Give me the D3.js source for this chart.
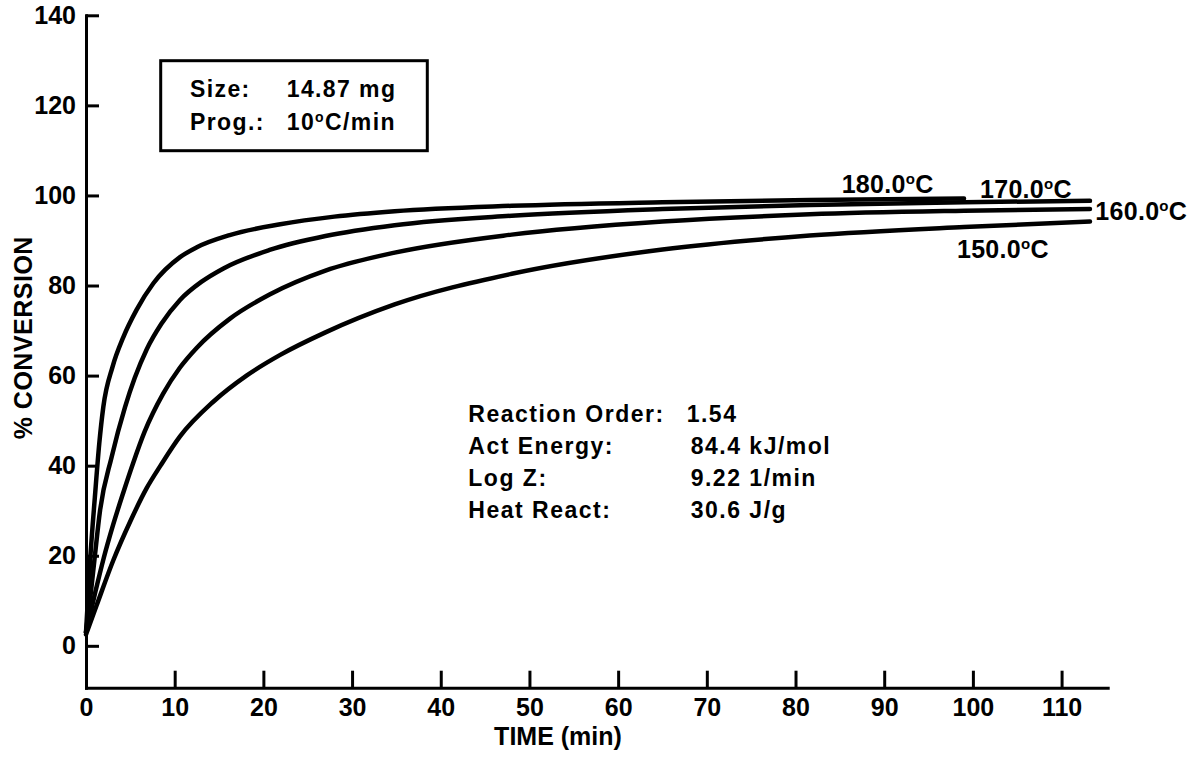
<!DOCTYPE html>
<html>
<head>
<meta charset="utf-8">
<script src="https://cdn.jsdelivr.net/npm/d3@7"></script>
<style>
  html, body { margin: 0; padding: 0; background: #fff; }
  svg { display: block; }
  text { font-family: "Liberation Sans", Arial, Helvetica, sans-serif; font-weight: bold; fill: #000; }
</style>
</head>
<body>
<svg id="chart" width="1201" height="757"></svg>
<script>
// ---- data ----
const xTicks = [0, 10, 20, 30, 40, 50, 60, 70, 80, 90, 100, 110];
const yTicks = [0, 20, 40, 60, 80, 100, 120, 140];

const series180 = [[0,3],[0.5,20],[1,33],[1.5,45],[1.95,53],[3,62],[4.2,68.5],[5.7,74.6],[7.6,80.5],[10.6,86.3],[12.5,88.5],[16.2,91.2],[21.9,93.6],[28,95.3],[34.8,96.5],[48,97.7],[65,98.5],[81.6,99.0],[99,99.3]];
const series170 = [[0,3],[0.5,11],[1,20],[1.58,30],[2.9,42],[4.4,53],[5.5,59.5],[6.84,65.8],[8.5,71.5],[10.6,76.8],[13,80.8],[15.5,83.8],[20.7,87.9],[27,91.0],[34.8,93.4],[48,95.5],[65,97.0],[81.6,97.9],[99,98.5],[113.2,98.8]];
const series160 = [[0,3],[1,11.5],[2,19.5],[3.08,27],[4.2,34],[5.3,40.5],[6.6,47.5],[8.7,56],[10.6,61.8],[12.5,66.2],[16.2,72.6],[20.7,78],[27,83.3],[34.8,87.3],[48,91.3],[65,94.2],[81.6,95.8],[99,96.6],[113.2,97.0]];
const series150 = [[0,2.5],[1.2,9],[3.08,19],[4.96,27.5],[6.84,35],[8.4,40],[10.6,46.5],[14.35,54.2],[18.1,60.0],[21.9,64.6],[27,69.6],[34.8,75.8],[48,82.6],[65,88.0],[81.6,91.1],[99,93.0],[113.2,94.2]];

const seriesNames = ["180.0", "170.0", "160.0", "150.0"];
const seriesData = [series180, series170, series160, series150];

const infoLabels = ["Reaction Order:", "Act Energy:", "Log Z:", "Heat React:"];
const infoValues = ["1.54", "84.4 kJ/mol", "9.22 1/min", "30.6 J/g"];

// ---- layout ----
const svg = d3.select("#chart");
const x = d3.scaleLinear().domain([0, 115.2]).range([86, 1107.7]);
const y = d3.scaleLinear().domain([-9.3, 140]).range([687.7, 15.3]);

// axes
const yAxis = d3.axisLeft(y).tickValues(yTicks).tickSizeInner(-13).tickSizeOuter(0).tickPadding(10);
const gy = svg.append("g").attr("transform", `translate(${x(0)},0)`).call(yAxis);
const xAxis = d3.axisBottom(x).tickValues(xTicks).tickSizeInner(-17).tickSizeOuter(0).tickPadding(10.5);
const gx = svg.append("g").attr("transform", `translate(0,${y(-9.3)})`).call(xAxis);

[gx, gy].forEach(g => {
  g.select(".domain").attr("stroke", "#000").attr("stroke-width", 3).attr("stroke-linecap", "square");
  g.selectAll(".tick line").attr("stroke", "#000").attr("stroke-width", 3);
  g.selectAll(".tick text").attr("font-size", 25).attr("font-family", null).attr("fill", "#000");
});

// axis titles
svg.append("text").attr("x", 558).attr("y", 745).attr("text-anchor", "middle")
  .attr("font-size", 25).text("TIME (min)");
svg.append("text").attr("transform", "translate(31.5,337.7) rotate(-90)").attr("text-anchor", "middle")
  .attr("font-size", 25).attr("letter-spacing", 0.5).text("% CONVERSION");

// curves
const line = d3.line().x(d => x(d[0])).y(d => y(d[1])).curve(d3.curveMonotoneX);
svg.append("g").selectAll("path").data(seriesData).join("path")
  .attr("d", line).attr("fill", "none").attr("stroke", "#000")
  .attr("stroke-width", 4.5).attr("stroke-linecap", "round").attr("stroke-linejoin", "round");

// curve labels
const labelPos = [[85.2, 100.5], [100.8, 99.4], [113.8, 94.5], [98.2, 86.0]];
seriesNames.forEach((name, i) => {
  const t = svg.append("text").attr("x", x(labelPos[i][0])).attr("y", y(labelPos[i][1]))
    .attr("font-size", 25).attr("letter-spacing", 0.3);
  t.append("tspan").text(name);
  t.append("tspan").attr("font-size", 15).attr("dy", -9).text("o");
  t.append("tspan").attr("dy", 9).text("C");
});

// info box
svg.append("rect").attr("x", 160.7).attr("y", 60.7).attr("width", 266.6).attr("height", 90)
  .attr("fill", "none").attr("stroke", "#000").attr("stroke-width", 3);
const boxRows = [["Size:", "14.87 mg"], ["Prog.:", "10"]];
boxRows.forEach((r, i) => {
  const yy = 96.7 + i * 33.3;
  svg.append("text").attr("x", 190).attr("y", yy).attr("font-size", 23).attr("letter-spacing", 1.4).text(r[0]);
  const t = svg.append("text").attr("x", 286.7).attr("y", yy).attr("font-size", 23).attr("letter-spacing", 1.4);
  t.append("tspan").text(r[1]);
  if (i === 1) {
    t.append("tspan").attr("font-size", 14).attr("dy", -8).text("o");
    t.append("tspan").attr("dy", 8).text("C/min");
  }
});

// kinetics info
infoLabels.forEach((lab, i) => {
  const yy = 421.7 + i * 32.2;
  svg.append("text").attr("x", 468.3).attr("y", yy).attr("font-size", 23).attr("letter-spacing", 1.5).text(lab);
  svg.append("text").attr("x", i === 0 ? 686.7 : 690.7).attr("y", yy).attr("font-size", 23)
    .attr("letter-spacing", 1.5).text(infoValues[i]);
});
</script>
</body>
</html>
